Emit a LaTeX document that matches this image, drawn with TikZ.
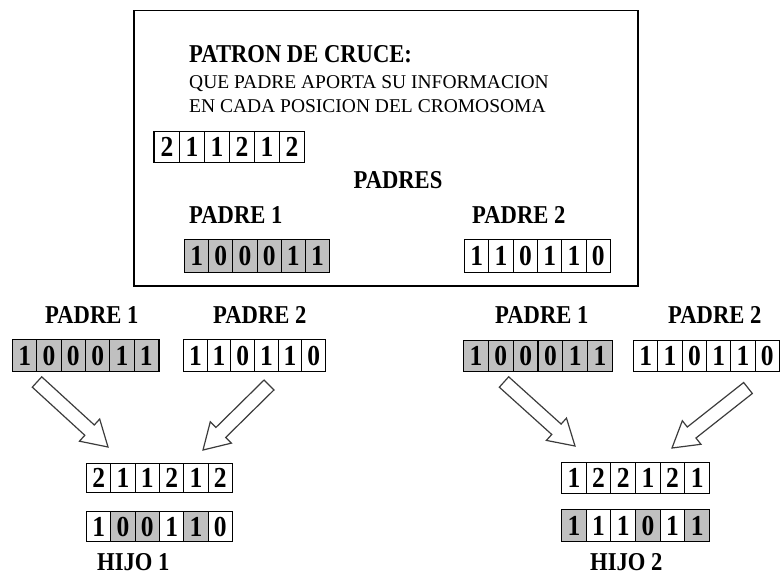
\documentclass[tikz,border=0pt]{standalone}
\usepackage{fontspec}
\setmainfont{Liberation Serif}
\newfontfamily\labfont{Liberation Serif}[FakeStretch=0.88]
\usetikzlibrary{calc}
\definecolor{cellgray}{RGB}{192,192,192}
\definecolor{arrline}{RGB}{60,60,60}
\tikzset{
  lab/.style={font=\labfont\bfseries\fontsize{25.7}{28}\selectfont, inner sep=0},
  smalltxt/.style={font=\fontsize{19.5}{22}\selectfont, inner sep=0},
  wcell/.style={draw, line width=1.1pt, inner sep=0, anchor=north west,
    font=\labfont\bfseries\fontsize{29}{30}\selectfont},
  gcell/.style={wcell, fill=cellgray},
  blockarr/.style={draw=arrline, line width=1.2pt, fill=white, line join=miter},
  framebox/.style={draw, line width=1.5pt}
}
\newcommand\chromrow[6]{% name, x, y, cell width, cell height, list digit/style
  \foreach \d/\s [count=\i] in {#6} {
    \node[\s, minimum width=#4pt, minimum height=#5pt] (#1-\i) at ({#2+(\i-1)*#4}, #3) {\d};
  }}
\newcommand\blockarrow[3]{% name, tail, tip
  \coordinate (#1h) at ($(#3)!25pt!(#2)$);
  \draw[blockarr] ($(#2)!7pt!90:(#3)$) -- ($(#1h)!7pt!-90:(#2)$) -- ($(#1h)!15pt!-90:(#2)$)
    -- (#3) -- ($(#1h)!15pt!90:(#2)$) -- ($(#1h)!7pt!90:(#2)$) -- ($(#2)!7pt!-90:(#3)$) -- cycle;
}
\begin{document}
\begin{tikzpicture}[x=1pt, y=-1pt]
\useasboundingbox (0,0) rectangle (781,575);
% frame
\node[framebox, inner sep=0, minimum width=504pt, minimum height=275pt, anchor=north west] (frame) at (133,10) {};
% texts in frame
\node[lab, anchor=base west] (title) at (189,63) {PATRON DE CRUCE:};
\node[smalltxt, anchor=base west] (l2) at (189,89) {QUE PADRE APORTA SU INFORMACION};
\node[smalltxt, anchor=base west] (l3) at (189,113) {EN CADA POSICION DEL CROMOSOMA};
\chromrow{pat}{154}{131}{25}{31}{2/wcell,1/wcell,1/wcell,2/wcell,1/wcell,2/wcell}
\draw[line width=2.6pt] (pat-1.north west) -- (pat-1.south west);
\node[lab, anchor=base] (padres) at (398,188) {PADRES};
\node[lab, anchor=base west] (bp1l) at (189,223) {PADRE 1};
\node[lab, anchor=base west] (bp2l) at (472,223) {PADRE 2};
\chromrow{bp1}{184}{239}{24.17}{33}{1/gcell,0/gcell,0/gcell,0/gcell,1/gcell,1/gcell}
\chromrow{bp2}{464}{239}{24.33}{33}{1/wcell,1/wcell,0/wcell,1/wcell,1/wcell,0/wcell}
% left group
\node[lab, anchor=base west] (lp1l) at (45,323) {PADRE 1};
\node[lab, anchor=base west] (lp2l) at (213,323) {PADRE 2};
\chromrow{lp1}{12}{339}{24.33}{32}{1/gcell,0/gcell,0/gcell,0/gcell,1/gcell,1/gcell}
\draw[line width=2.6pt] (lp1-6.north east) -- (lp1-6.south east);
\chromrow{lp2}{183}{339}{23.67}{32}{1/wcell,1/wcell,0/wcell,1/wcell,1/wcell,0/wcell}
% right group
\node[lab, anchor=base west] (rp1l) at (495,323) {PADRE 1};
\node[lab, anchor=base west] (rp2l) at (668,323) {PADRE 2};
\chromrow{rp1}{463}{340}{24.83}{31}{1/gcell,0/gcell,0/gcell,0/gcell,1/gcell,1/gcell}
\chromrow{rp2}{633}{340}{24.33}{31}{1/wcell,1/wcell,0/wcell,1/wcell,1/wcell,0/wcell}
% arrows
\coordinate (a1t) at (37,382);  \coordinate (a1p) at (108,447);
\coordinate (a2t) at (269,385); \coordinate (a2p) at (203,450);
\coordinate (a3t) at (504,382); \coordinate (a3p) at (575,446);
\coordinate (a4t) at (748,388); \coordinate (a4p) at (672,448);
\blockarrow{a1}{a1t}{a1p}
\blockarrow{a2}{a2t}{a2p}
\blockarrow{a3}{a3t}{a3p}
\blockarrow{a4}{a4t}{a4p}
% children
\chromrow{h1a}{86}{463}{24.33}{29}{2/wcell,1/wcell,1/wcell,2/wcell,1/wcell,2/wcell}
\chromrow{h1b}{86}{511}{24.33}{30}{1/wcell,0/gcell,0/gcell,1/wcell,1/gcell,0/wcell}
\node[lab, anchor=base west] (h1l) at (97,570) {HIJO 1};
\chromrow{h2a}{561}{462}{24.67}{31}{1/wcell,2/wcell,2/wcell,1/wcell,2/wcell,1/wcell}
\chromrow{h2b}{561}{509}{24.67}{32}{1/gcell,1/wcell,1/wcell,0/gcell,1/wcell,1/gcell}
\node[lab, anchor=base west] (h2l) at (590,570) {HIJO 2};
\end{tikzpicture}
\end{document}
